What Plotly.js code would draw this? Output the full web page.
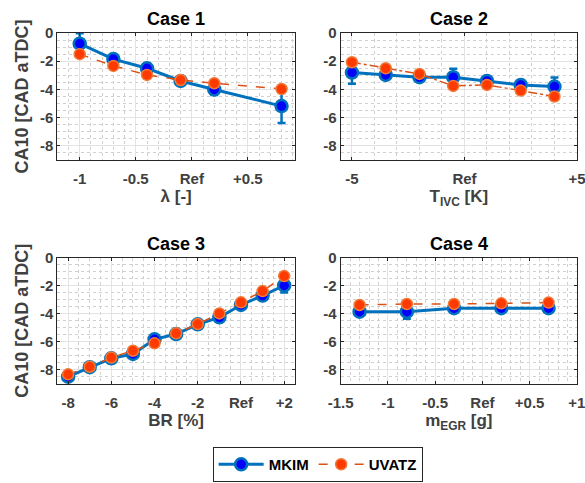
<!DOCTYPE html>
<html>
<head>
<meta charset="utf-8">
<script src="https://cdn.plot.ly/plotly-3.0.1.min.js"></script>
<style>html,body{margin:0;padding:0;background:#fff;}#chart{width:585px;height:483px;}</style>
</head>
<body>
<div id="chart"></div>
<script>
// ---- Data ----
const case1X = [-1, -0.7, -0.4, -0.1, 0.2, 0.8];
const case1MKIM = [-0.76, -1.85, -2.5, -3.4, -4.0, -5.18];
const case1MKIMErr = [0.75, 0.35, 0.35, 0.15, 0.4, 1.2];
const case1UVATZ = [-1.5, -2.33, -2.97, -3.33, -3.56, -3.97];

const case2X = [-5, -3.5, -2, -0.5, 1, 2.5, 4];
const case2MKIM = [-2.8, -2.97, -3.13, -3.13, -3.4, -3.68, -3.8];
const case2MKIMErr = [0.8, 0.3, 0.15, 0.6, 0.2, 0.25, 0.65];
const case2UVATZ = [-2.07, -2.5, -2.9, -3.75, -3.68, -4.08, -4.5];

const case3X = [-8, -7, -6, -5, -4, -3, -2, -1, 0, 1, 2];
const case3MKIM = [-8.48, -7.8, -7.17, -6.86, -5.82, -5.44, -4.75, -4.25, -3.37, -2.7, -1.98];
const case3MKIMErr = [0.1, 0.1, 0.1, 0.1, 0.1, 0.1, 0.1, 0.1, 0.1, 0.25, 0.5];
const case3UVATZ = [-8.31, -7.77, -7.12, -6.63, -6.1, -5.39, -4.73, -3.97, -3.18, -2.38, -1.31];

const case4X = [-1.3, -0.8, -0.3, 0.2, 0.7];
const case4MKIM = [-3.85, -3.85, -3.6, -3.6, -3.6];
const case4MKIMErr = [0.3, 0.5, 0.25, 0.25, 0.25];
const case4UVATZ = [-3.37, -3.3, -3.3, -3.25, -3.2];

const subplotTitles = ['Case 1', 'Case 2', 'Case 3', 'Case 4'];
const xTitles = ['λ [-]', 'T<sub>IVC</sub> [K]', 'BR [%]', 'm<sub>EGR</sub> [g]'];
const yTitle = 'CA10 [CAD aTDC]';
const xTickVals = [[-1, -0.5, 0, 0.5], [-5, 0, 5], [-8, -6, -4, -2, 0, 2], [-1.5, -1, -0.5, 0, 0.5, 1]];
const xTickText = [['-1', '-0.5', 'Ref', '+0.5'], ['-5', 'Ref', '+5'], ['-8', '-6', '-4', '-2', 'Ref', '+2'], ['-1.5', '-1', '-0.5', 'Ref', '+0.5', '+1']];
const yTickVals = [0, -2, -4, -6, -8];
const yTickText = ['0', '-2', '-4', '-6', '-8'];
const seriesNames = ['MKIM', 'UVATZ'];

// ---- Styles ----
const BLUE = '#0072BD', BLUEFILL = '#0000FF', ORANGE = '#D95319', ORANGEFILL = '#FF3A00';
const cases = [
  {x: case1X, m: case1MKIM, e: case1MKIMErr, u: case1UVATZ, dash: 'dash'},
  {x: case2X, m: case2MKIM, e: case2MKIMErr, u: case2UVATZ, dash: 'dashdot'},
  {x: case3X, m: case3MKIM, e: case3MKIMErr, u: case3UVATZ, dash: 'dash'},
  {x: case4X, m: case4MKIM, e: case4MKIMErr, u: case4UVATZ, dash: 'dash'}
];
const xRanges = [[-1.2, 0.92], [-5.5, 5.001], [-8.5, 2.5], [-1.5, 1.001]];
const xMinor = [0.1, 1, 0.5, 0.1];

const traces = [];
cases.forEach((c, i) => {
  const ax = i === 0 ? '' : String(i + 1);
  traces.push({
    x: c.x, y: c.m, name: seriesNames[0], type: 'scatter', mode: 'lines+markers',
    xaxis: 'x' + ax, yaxis: 'y' + ax, showlegend: i === 0, legendrank: 1,
    line: {color: BLUE, width: 3},
    marker: {size: 12, color: BLUEFILL, line: {color: BLUE, width: 2.5}},
    error_y: {type: 'data', array: c.e, visible: true, color: BLUE, thickness: 2.5, width: 4}
  });
  traces.push({
    x: c.x, y: c.u, name: seriesNames[1], type: 'scatter', mode: 'lines+markers',
    xaxis: 'x' + ax, yaxis: 'y' + ax, showlegend: i === 0, legendrank: 2,
    line: {color: ORANGE, width: 1.5, dash: c.dash},
    marker: {size: 11, color: ORANGEFILL, line: {color: '#F07A3A', width: 1.5}}
  });
});

const xDomains = [[57.3 / 585, 295 / 585], [340.7 / 585, 577 / 585]];
const yDomains = [[1 - 160 / 483, 1 - 33 / 483], [1 - 384 / 483, 1 - 257.7 / 483]];
const FONT = 'Liberation Sans, Arial, sans-serif';
const TICKCOL = '#404040';

const layout = {
  width: 585, height: 483,
  margin: {l: 0, r: 0, t: 0, b: 0},
  paper_bgcolor: '#ffffff', plot_bgcolor: '#ffffff',
  font: {family: FONT, color: TICKCOL},
  showlegend: true,
  legend: {
    orientation: 'h', x: 0.543, xanchor: 'center', y: 0.002, yanchor: 'bottom',
    bordercolor: '#262626', borderwidth: 1, bgcolor: '#fff',
    font: {family: FONT, size: 15, color: '#000', weight: 'bold'},
    itemwidth: 45, tracegroupgap: 0
  },
  annotations: []
};

for (let i = 0; i < 4; i++) {
  const ax = i === 0 ? '' : String(i + 1);
  const col = i % 2, row = Math.floor(i / 2);
  layout['xaxis' + ax] = {
    domain: xDomains[col], anchor: 'y' + ax, range: xRanges[i],
    tickmode: 'array', tickvals: xTickVals[i], ticktext: xTickText[i],
    ticks: 'inside', ticklen: 3, tickcolor: '#262626', tickwidth: 1,
    showline: true, mirror: 'ticks', linecolor: '#262626', linewidth: 1,
    showgrid: true, gridcolor: '#e3e3e3', gridwidth: 1, zeroline: false,
    minor: {dtick: xMinor[i], tick0: 0, showgrid: true, gridcolor: '#d0d0d0', griddash: 'dot', gridwidth: 1, ticks: ''},
    tickfont: {family: FONT, size: 15, color: TICKCOL, weight: 'bold'},
    ticklabelstandoff: 5, ticklabeloverflow: 'allow',
    title: {text: xTitles[i], font: {family: FONT, size: 17, color: TICKCOL, weight: 'bold'}, standoff: 3}
  };
  const yax = {
    domain: yDomains[row], anchor: 'x' + ax, range: [-9, 0],
    tickmode: 'array', tickvals: yTickVals, ticktext: yTickText,
    ticks: 'inside', ticklen: 3, tickcolor: '#262626', tickwidth: 1,
    showline: true, mirror: 'ticks', linecolor: '#262626', linewidth: 1,
    showgrid: true, gridcolor: '#e3e3e3', gridwidth: 1, zeroline: false,
    minor: {dtick: 0.5, tick0: 0, showgrid: true, gridcolor: '#d0d0d0', griddash: 'dot', gridwidth: 1, ticks: ''},
    tickfont: {family: FONT, size: 15, color: TICKCOL, weight: 'bold'},
    ticklabelstandoff: 0
  };
  if (col === 0) {
    yax.title = {text: yTitle, font: {family: FONT, size: 18, color: TICKCOL, weight: 'bold'}, standoff: 6};
  }
  layout['yaxis' + ax] = yax;
  layout.annotations.push({
    text: subplotTitles[i], xref: 'paper', yref: 'paper', showarrow: false,
    x: (xDomains[col][0] + xDomains[col][1]) / 2, xanchor: 'center',
    y: yDomains[row][1] + 2 / 483, yanchor: 'bottom',
    font: {family: FONT, size: 18, color: '#000', weight: 'bold'}
  });
}

Plotly.newPlot('chart', traces, layout, {displayModeBar: false, staticPlot: true});
</script>
</body>
</html>
